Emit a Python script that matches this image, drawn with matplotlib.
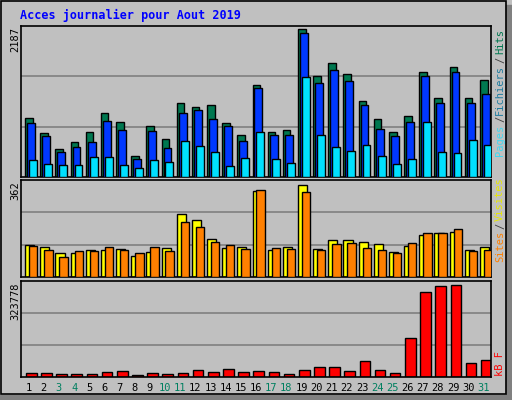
import matplotlib
matplotlib.use("Agg")
import matplotlib.pyplot as plt
from matplotlib.patches import Rectangle

days = [str(i) for i in range(1, 32)]
weekend = {3, 4, 10, 11, 17, 18, 24, 25, 31}
hits = [854, 637, 405, 507, 652, 927, 796, 304, 738, 550, 1072, 1014, 1043, 782, 608, 1332,
        652, 681, 2143, 1462, 1651, 1491, 1100, 840, 652, 883, 1520, 1144, 1593, 1144, 1405]
files = [782, 594, 362, 434, 507, 811, 681, 261, 666, 420, 927, 970, 840, 738, 521, 1289,
         608, 608, 2085, 1361, 1549, 1390, 1043, 695, 594, 796, 1462, 1072, 1520, 1072, 1202]
pages = [246, 188, 174, 174, 290, 290, 174, 130, 246, 217, 521, 449, 362, 159, 275, 652,
         261, 203, 1448, 608, 434, 376, 463, 304, 188, 261, 796, 362, 348, 536, 463]
visits = [121, 111, 91, 91, 102, 102, 106, 80, 95, 109, 236, 214, 143, 109, 113, 320,
          102, 113, 345, 106, 139, 139, 132, 124, 95, 117, 158, 165, 169, 102, 113]
sites = [117, 102, 76, 98, 98, 113, 102, 91, 113, 98, 207, 188, 132, 121, 106, 326,
         109, 106, 318, 102, 124, 128, 109, 102, 91, 128, 165, 165, 180, 98, 102]
kbytes = [12500, 12500, 9000, 9000, 9000, 16000, 19000, 5700, 12500, 9000, 12500, 23000, 16000,
          26000, 16000, 19000, 16000, 9000, 23000, 33000, 33000, 19000, 53000, 23000, 12500,
          132000, 285000, 308000, 311000, 47000, 57000]
max_top, max_mid, max_bot = 2187, 362, 323778

W, H = 512, 400
fig = plt.figure(figsize=(W / 100, H / 100), dpi=100)
fig.patch.set_facecolor("#c0c0c0")
mono = "DejaVu Sans Mono"

fig.add_artist(Rectangle((506 / W, 0), 6 / W, 395 / H, transform=fig.transFigure, color="#808080", zorder=0))
fig.add_artist(Rectangle((0, 0), 512 / W, 5 / H, transform=fig.transFigure, color="#808080", zorder=0))
fig.add_artist(Rectangle((1 / W, 6 / H), 505 / W, 393 / H, transform=fig.transFigure,
                         fill=False, edgecolor="black", lw=1.2, zorder=1))

fig.text(20 / W, 1 - 15 / H, "Acces journalier pour Aout 2019", color="#0000ff",
         fontsize=8.5, fontweight="bold", family=mono, va="center")

def mkax(top, bot, ymax):
    ax = fig.add_axes([21 / W, 1 - bot / H, 470 / W, (bot - top) / H])
    ax.set_facecolor("#c0c0c0")
    ax.set_xlim(0, 31)
    ax.set_ylim(0, ymax)
    ax.set_xticks([])
    ax.set_yticks([])
    for s in ax.spines.values():
        s.set_color("black")
        s.set_linewidth(1.2)
    for f in (1 / 3, 2 / 3):
        ax.axhline(ymax * f, color="#808080", lw=1.2, zorder=0)
    return ax

x = range(31)
ax1 = mkax(26, 177, max_top)
ax1.bar([i + 0.27 for i in x], hits, width=0.5, align="edge", color="#007850", edgecolor="black", lw=1, zorder=2)
ax1.bar([i + 0.40 for i in x], files, width=0.52, align="edge", color="#0038ff", edgecolor="black", lw=1, zorder=3)
ax1.bar([i + 0.53 for i in x], pages, width=0.52, align="edge", color="#00e0ff", edgecolor="black", lw=1, zorder=4)

ax2 = mkax(180, 277, max_mid)
ax2.bar([i + 0.27 for i in x], visits, width=0.6, align="edge", color="#ffff00", edgecolor="black", lw=1, zorder=2)
ax2.bar([i + 0.53 for i in x], sites, width=0.55, align="edge", color="#ff8000", edgecolor="black", lw=1, zorder=3)

ax3 = mkax(281, 377, max_bot)
ax3.bar([i + 0.33 for i in x], kbytes, width=0.7, align="edge", color="#ff0000", edgecolor="black", lw=1, zorder=2)
ax3.set_xticks([i + 0.5 for i in x])
ax3.set_xticklabels(days, family=mono, fontsize=7.5)
ax3.tick_params(axis="x", length=0, pad=4)
for lab, d in zip(ax3.get_xticklabels(), range(1, 32)):
    lab.set_color("#008060" if d in weekend else "black")

for txt, ytop in (("2187", 27), ("362", 181), ("323778", 282)):
    fig.text(15 / W, 1 - ytop / H, txt, rotation=90, fontsize=7.5, family=mono, ha="center", va="top")

def rt(txt, y, color):
    fig.text(500 / W, 1 - y / H, txt, rotation=90, fontsize=7.5, family=mono, ha="center", va="center", color=color)

rt("Hits", 41, "#007850")
rt("/", 60, "#404040")
rt("Fichiers", 90, "#1e7ca0")
rt("/", 119, "#404040")
rt("Pages", 140, "#40d8f0")
rt("Visites", 199, "#e8e800")
rt("/", 226, "#404040")
rt("Sites", 246, "#ff8000")
rt("kB F", 363, "#ff0000")

fig.savefig("out.png", dpi=100, facecolor=fig.get_facecolor())
